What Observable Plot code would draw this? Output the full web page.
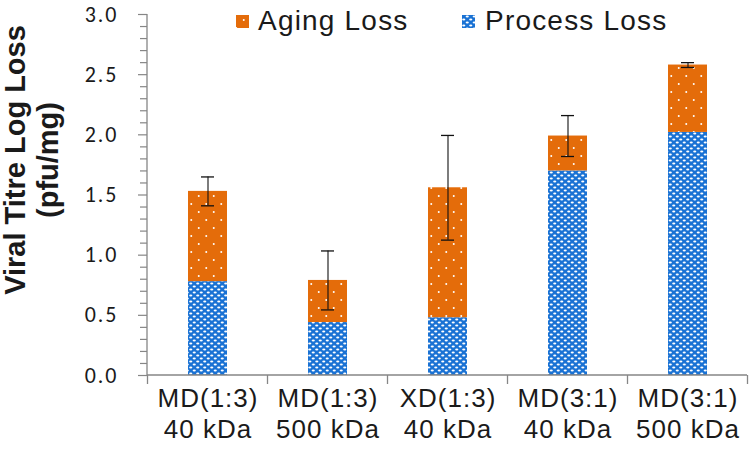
<!DOCTYPE html>
<html>
<head>
<meta charset="utf-8">
<script src="https://cdn.jsdelivr.net/npm/d3@7"></script>
<script src="https://cdn.jsdelivr.net/npm/@observablehq/plot@0.6"></script>
<style>
  body { margin: 0; background: #fff; }
  #wrap { position: relative; width: 749px; height: 452px; overflow: hidden; }
  #overlay { position: absolute; left: 0; top: 0; pointer-events: none; }
</style>
</head>
<body>
<div id="wrap"></div>
<script>
// ---- data ----
const categories = ["MD(1:3)\n40 kDa", "MD(1:3)\n500 kDa", "XD(1:3)\n40 kDa", "MD(3:1)\n40 kDa", "MD(3:1)\n500 kDa"];
const processLoss = [0.78, 0.44, 0.48, 1.70, 2.02];
const totalLoss   = [1.53, 0.79, 1.56, 1.99, 2.58];
const errorBars   = [0.12, 0.245, 0.435, 0.17, 0.02];
const seriesNames = ["Aging Loss", "Process Loss"];
const yMajorTicks = [0, 0.5, 1.0, 1.5, 2.0, 2.5, 3.0];
const yMinorTicks = [0.1,0.2,0.3,0.4,0.6,0.7,0.8,0.9,1.1,1.2,1.3,1.4,1.6,1.7,1.8,1.9,2.1,2.2,2.3,2.4,2.6,2.7,2.8,2.9];
const yTitle = ["Viral Titre Log Loss", "(pfu/mg)"];

const BLUE = "#1a72d4";
const ORANGE = "#e46c0a";
const AXIS = "#868686";

const rows = categories.map((c, i) => ({
  cat: c, process: processLoss[i], total: totalLoss[i], err: errorBars[i]
}));

function patternDefs(prefix) {
  const defs = d3.create("svg:defs");
  const pb = defs.append("pattern").attr("id", prefix + "proc")
    .attr("patternUnits", "userSpaceOnUse").attr("width", 7).attr("height", 6);
  pb.append("rect").attr("width", 7).attr("height", 6).attr("fill", BLUE);
  pb.append("ellipse").attr("cx", 1.75).attr("cy", 1.5).attr("rx", 1.6).attr("ry", 0.9).attr("fill", "#fff");
  pb.append("ellipse").attr("cx", 5.25).attr("cy", 4.5).attr("rx", 1.6).attr("ry", 0.9).attr("fill", "#fff");
  const po = defs.append("pattern").attr("id", prefix + "age")
    .attr("patternUnits", "userSpaceOnUse").attr("width", 15).attr("height", 16);
  po.append("rect").attr("width", 15).attr("height", 16).attr("fill", ORANGE);
  po.append("circle").attr("cx", 3.75).attr("cy", 4).attr("r", 1.0).attr("fill", "#fff");
  po.append("circle").attr("cx", 11.25).attr("cy", 12).attr("r", 1.0).attr("fill", "#fff");
  return defs.node();
}

function axisLines(index, scales, values, dims) {
  const {x, y} = scales;
  const g = d3.create("svg:g").attr("stroke", AXIS).attr("stroke-width", 1.3).attr("fill", "none");
  const xl = dims.marginLeft, xr = dims.width - dims.marginRight;
  const y0 = y(0), yTop = y(3);
  g.append("line").attr("x1", xl).attr("x2", xl).attr("y1", y0).attr("y2", yTop);
  g.append("line").attr("x1", xl).attr("x2", xr).attr("y1", y0).attr("y2", y0);
  const bw = x.bandwidth();
  const step = (x(categories[1]) - x(categories[0]));
  const first = x(categories[0]) + bw / 2 - step / 2;
  for (let i = 0; i <= categories.length; i++) {
    const xx = first + i * step;
    g.append("line").attr("x1", xx).attr("x2", xx).attr("y1", y0).attr("y2", y0 + 9);
  }
  return g.node();
}

const plot = Plot.plot({
  width: 749,
  height: 452,
  marginLeft: 147,
  marginRight: 2,
  marginTop: 14,
  marginBottom: 77,
  style: { fontFamily: "'Liberation Sans', Arial, sans-serif", color: "#1a1a1a", background: "#fff" },
  x: { domain: categories, axis: null, paddingInner: 0.675, paddingOuter: 0.3375 },
  y: { domain: [0, 3], axis: null },
  marks: [
    () => patternDefs("p-"),
    Plot.barY(rows, { x: "cat", y1: 0, y2: "process", fill: "url(#p-proc)" }),
    Plot.barY(rows, { x: "cat", y1: "process", y2: "total", fill: "url(#p-age)" }),
    Plot.ruleX(rows, { x: "cat", y1: d => d.total - d.err, y2: d => d.total + d.err, stroke: "#111", strokeWidth: 1.1 }),
    Plot.tickY(rows, { x: "cat", y: d => d.total + d.err, insetLeft: 13, insetRight: 13, stroke: "#111", strokeWidth: 1.3 }),
    Plot.tickY(rows, { x: "cat", y: d => d.total - d.err, insetLeft: 13, insetRight: 13, stroke: "#111", strokeWidth: 1.3 }),
    Plot.axisY(yMinorTicks, { tickSize: 7, tickFormat: () => "", stroke: AXIS, strokeWidth: 1.2 }),
    Plot.axisY(yMajorTicks, { tickSize: 9, tickPadding: 20, tickFormat: d => d.toFixed(1), stroke: AXIS, strokeWidth: 1.2,
      fontSize: 22, fontFamily: "Carlito, Lato, sans-serif", fill: "#1a1a1a" }),
    axisLines,
    Plot.text(rows, { x: "cat", text: "cat", frameAnchor: "bottom", lineAnchor: "top", dy: 10,
      fontSize: 26, lineHeight: 1.17, fill: "#1a1a1a" })
  ]
});

d3.select(plot).selectAll('g[aria-label="text"] text').style("letter-spacing", "1px");
d3.select(plot).selectAll('g[aria-label="y-axis tick label"] text').style("letter-spacing", "2px");

const wrap = document.getElementById("wrap");
wrap.appendChild(plot);

// ---- legend and y-axis title overlay ----
const ov = d3.create("svg").attr("id", "overlay").attr("width", 749).attr("height", 452)
  .style("font-family", "'Liberation Sans', Arial, sans-serif");
ov.node().appendChild(patternDefs("l-"));
const legendItems = [
  { name: seriesNames[0], fill: "url(#l-age)", sx: 236, tx: 258 },
  { name: seriesNames[1], fill: "url(#l-proc)", sx: 462, tx: 485 }
];
for (const it of legendItems) {
  ov.append("rect").attr("x", it.sx).attr("y", 15).attr("width", 13).attr("height", 13).attr("fill", it.fill);
  ov.append("text").attr("x", it.tx).attr("y", 30).attr("font-size", 28).style("letter-spacing", "1.2px")
    .attr("fill", "#1a1a1a").text(it.name);
}
const tg = ov.append("g").attr("font-weight", "bold").attr("font-size", 29).attr("fill", "#1a1a1a").attr("text-anchor", "middle");
tg.append("text").attr("transform", "translate(25,160) rotate(-90)").text(yTitle[0]);
tg.append("text").attr("transform", "translate(58,160) rotate(-90)").text(yTitle[1]);
wrap.appendChild(ov.node());
</script>
</body>
</html>
